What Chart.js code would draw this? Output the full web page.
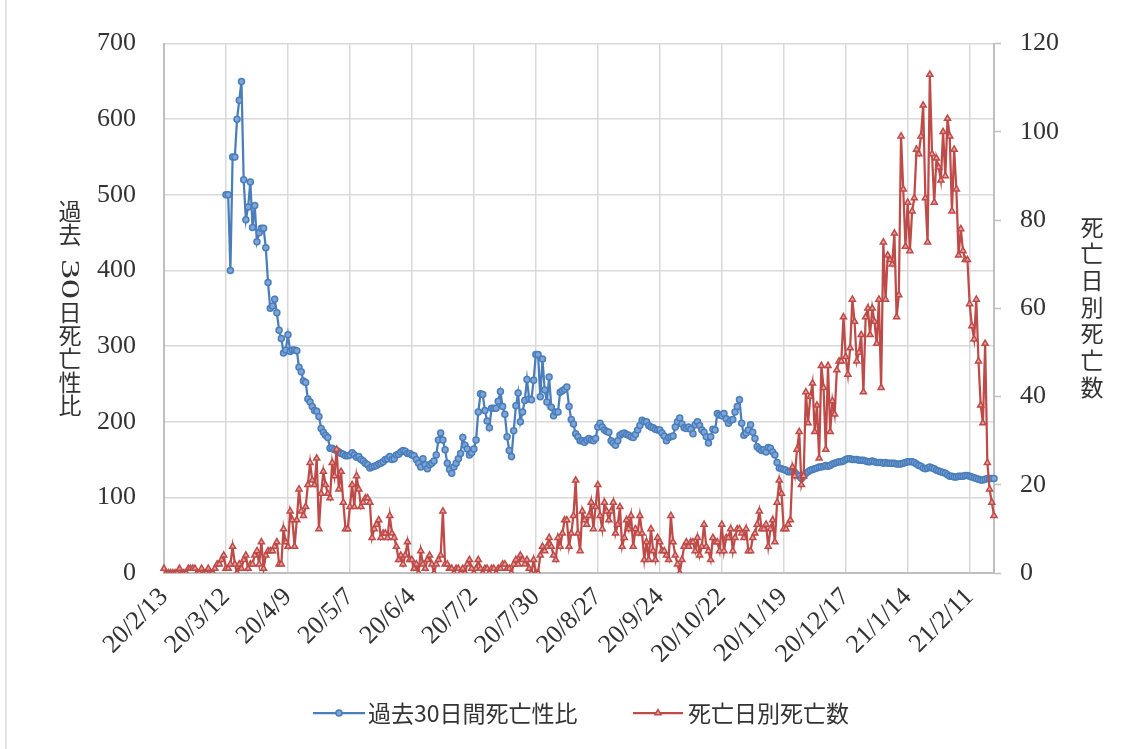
<!DOCTYPE html>
<html><head><meta charset="utf-8">
<script src="https://cdn.jsdelivr.net/npm/chart.js@4"></script>
<style>html,body{margin:0;padding:0;background:#fff}#wrap{width:1134px;height:749px;position:relative}</style>
</head><body><div id="wrap"><canvas id="c" width="1134" height="749"></canvas></div>
<script>
// ---- data ----
const dayCount = 376; // 20/2/13 .. 21/2/22, daily
const tickLabels = ['20/2/13','20/3/12','20/4/9','20/5/7','20/6/4','20/7/2','20/7/30','20/8/27','20/9/24','20/10/22','20/11/19','20/12/17','21/1/14','21/2/11'];
const seriesNames = ['過去30日間死亡性比', '死亡日別死亡数'];
const leftTitle = ['過','去','30','日','死','亡','性','比'];
const rightTitle = ['死','亡','日','別','死','亡','数'];

const ratioSeries = [
null,null,null,null,null,null,null,null,null,null,
null,null,null,null,null,null,null,null,null,null,
null,null,null,null,null,null,null,null,500,500,
400,550,550,600,625,650,520,467,484,517,
457,486,438,450,456,456,430,384,350,353,
362,344,321,310,291,295,315,293,295,295,
294,272,266,254,252,230,226,220,215,214,
207,191,186,182,179,165,165,163,162,160,
158,157,155,155,156,159,156,153,154,150,
148,145,143,139,140,141,142,144,145,147,
150,151,154,150,151,156,157,160,162,161,
158,158,156,155,150,145,140,151,143,138,
143,145,148,156,176,185,176,163,145,137,
132,140,145,151,158,179,169,164,156,159,
164,176,213,237,236,215,201,192,218,218,
218,227,240,220,210,180,162,154,188,221,
238,200,213,228,256,230,229,255,289,289,
233,283,242,226,259,219,208,213,213,239,
241,243,246,220,203,197,184,180,175,175,
173,176,178,176,175,178,193,198,193,189,
187,186,175,172,169,175,182,184,185,183,
182,180,179,183,189,195,202,200,200,195,
193,192,190,189,189,185,181,175,179,180,
181,193,200,205,197,192,191,193,190,184,
196,200,195,189,186,180,172,180,190,189,
211,209,208,211,204,198,202,203,213,220,
229,198,182,185,189,196,186,178,167,164,
162,163,160,166,165,160,156,146,139,138,
137,136,134,134,134,133,130,128,125,128,
132,134,136,137,138,139,140,140,141,142,
141,142,144,145,146,147,147,148,150,151,
151,150,150,150,149,149,149,148,147,147,
148,147,146,146,146,145,146,145,145,145,
145,144,144,144,145,146,147,147,147,146,
144,142,141,139,138,139,140,139,138,136,
135,134,133,132,130,128,128,127,127,128,
128,128,129,129,128,127,126,125,124,123,
123,124,125,125,125,125
];

const deathSeries = [
1,0,0,0,0,0,0,1,0,0,
0,1,1,1,1,0,0,1,0,0,
1,0,0,1,2,2,3,4,1,1,
2,6,2,0,2,1,3,4,1,2,
2,4,5,2,7,1,4,5,5,5,
6,7,2,2,10,7,6,14,12,6,
12,19,14,13,15,20,25,21,20,26,
10,18,23,20,18,17,25,22,28,19,
23,16,10,10,15,20,15,22,19,15,
16,17,17,16,8,10,11,12,8,9,
9,8,13,9,8,6,3,4,2,4,
7,3,3,1,2,0,5,2,1,3,
4,2,0,2,3,4,14,2,2,1,
1,0,1,1,0,1,0,2,3,1,
0,1,3,1,0,1,1,0,1,1,
0,1,1,2,2,1,1,0,2,3,
2,4,3,2,3,1,0,3,0,0,
4,6,5,6,8,6,4,3,8,6,
9,12,12,6,9,13,21,9,5,14,
12,11,13,16,10,15,20,13,10,16,
14,12,14,16,9,11,15,6,8,12,
10,13,6,10,9,13,9,3,7,3,
10,5,3,8,7,5,5,4,3,13,
7,4,2,0,3,6,7,6,7,7,
5,8,4,6,11,6,5,3,8,7,
7,5,11,5,8,8,10,5,8,10,
10,9,8,10,5,5,8,9,11,14,
10,10,11,6,10,12,7,16,21,18,
10,10,11,12,24,22,28,32,20,22,
41,34,40,43,32,38,26,47,42,28,
47,32,39,36,46,48,48,58,49,45,
51,62,57,48,50,54,41,58,60,54,
60,57,52,62,42,75,62,72,71,70,
77,58,63,99,87,74,84,73,82,85,
96,95,99,106,85,75,113,95,84,94,
92,89,100,90,103,99,82,96,87,72,
78,73,71,71,61,56,53,62,48,38,
34,52,25,19,16,13
];

// category labels: consecutive days from 20/2/13
const dateLabels = [];
{
  const d0 = Date.UTC(2020, 1, 13);
  for (let i = 0; i < dayCount; i++) {
    const d = new Date(d0 + i * 86400000);
    dateLabels.push(String(d.getUTCFullYear()).slice(2) + '/' + (d.getUTCMonth() + 1) + '/' + d.getUTCDate());
  }
}

// ---- styles ----
const BLUE = '#4A7EBB', BLUE_FILL = '#7FA5D8';
const RED = '#BE4B48', RED_FILL = '#E3A3A1';
const GRID = '#D9D9D9', AXIS = '#BFBFBF', TXT = '#333333';
const CJK = '"Noto Sans CJK JP", "Noto Sans", sans-serif';
const NUMFONT = '"Liberation Serif", serif';

const decor = {
  id: 'decor',
  afterDraw(chart) {
    const ctx = chart.ctx;
    ctx.save();
    ctx.fillStyle = TXT;
    ctx.textAlign = 'center';
    ctx.textBaseline = 'middle';
    // left vertical title (upright characters, digits turned 90°)
    const lPos = [211, 234, 279, 312, 335, 358, 382, 405];
    leftTitle.forEach((ch, i) => {
      if (/^[0-9]+$/.test(ch)) {
        ctx.save();
        ctx.font = '26px ' + NUMFONT;
        ctx.translate(70, lPos[i]);
        ctx.rotate(Math.PI / 2);
        const w = ctx.measureText(ch).width;
        ctx.scale(40 / w, 1);
        ctx.fillText(ch, 0, 1);
        ctx.restore();
      } else {
        ctx.font = '23px ' + CJK;
        ctx.fillText(ch, 70, lPos[i]);
      }
    });
    // right vertical title
    const rPos = [227, 253, 280, 307, 333, 360, 387];
    ctx.font = '23px ' + CJK;
    rightTitle.forEach((ch, i) => ctx.fillText(ch, 1092, rPos[i]));

    // legend
    const ly = 713;
    const items = [
      {x0: 313, x1: 365, tx: 368, color: BLUE, fill: BLUE_FILL, style: 'circle', r: 3, text: seriesNames[0]},
      {x0: 633, x1: 683, tx: 688, color: RED, fill: RED_FILL, style: 'triangle', r: 3.5, text: seriesNames[1]}
    ];
    items.forEach(it => {
      ctx.strokeStyle = it.color;
      ctx.lineWidth = 2.25;
      ctx.beginPath(); ctx.moveTo(it.x0, ly); ctx.lineTo(it.x1, ly); ctx.stroke();
      ctx.fillStyle = it.fill; ctx.lineWidth = 1.5;
      Chart.helpers.drawPoint(ctx, {pointStyle: it.style, radius: it.r, borderWidth: 1.5, rotation: 0}, (it.x0 + it.x1) / 2, ly);
      ctx.fillStyle = TXT;
      ctx.textAlign = 'left';
      ctx.font = '23px ' + CJK;
      ctx.fillText(it.text, it.tx, ly);
    });
    // outer frame (left edge)
    ctx.strokeStyle = GRID; ctx.lineWidth = 1.5;
    ctx.beginPath(); ctx.moveTo(6, 0); ctx.lineTo(6, 749); ctx.stroke();
    ctx.restore();
  }
};

new Chart(document.getElementById('c'), {
  type: 'line',
  data: {
    labels: dateLabels,
    datasets: [
      {
        label: seriesNames[0], data: ratioSeries, yAxisID: 'y', order: 1,
        borderColor: BLUE, backgroundColor: BLUE, borderWidth: 2.25,
        pointStyle: 'circle', pointRadius: 3, pointBorderWidth: 1.5,
        pointBackgroundColor: BLUE_FILL, pointBorderColor: BLUE, tension: 0
      },
      {
        label: seriesNames[1], data: deathSeries, yAxisID: 'y1', order: 0,
        borderColor: RED, backgroundColor: RED, borderWidth: 2.25,
        pointStyle: 'triangle', pointRadius: 3.5, pointBorderWidth: 1.5,
        pointBackgroundColor: RED_FILL, pointBorderColor: RED, tension: 0
      }
    ]
  },
  options: {
    responsive: false,
    animation: false,
    devicePixelRatio: 1,
    layout: { padding: { top: 42, left: 0, right: 0, bottom: 0 } },
    plugins: { legend: { display: false }, tooltip: { enabled: false } },
    scales: {
      x: {
        type: 'category', offset: false,
        grid: {
          color: c => (c.tick && tickLabels.includes(c.tick.label)) ? GRID : 'rgba(0,0,0,0)',
          lineWidth: 1.5, drawTicks: false, offset: false
        },
        border: { color: AXIS, width: 2 },
        ticks: {
          autoSkip: false, maxRotation: 45, minRotation: 45, padding: 9,
          color: TXT, font: { family: NUMFONT, size: 26 },
          callback: (v, i) => tickLabels.includes(dateLabels[i]) ? dateLabels[i] : ''
        },
        afterFit: s => { s.height = 176; }
      },
      y: {
        position: 'left', min: 0, max: 700,
        ticks: { stepSize: 100, padding: 28, color: TXT, font: { family: NUMFONT, size: 26 } },
        grid: { color: GRID, lineWidth: 1.5, drawTicks: false },
        border: { color: AXIS, width: 2 },
        afterFit: s => { s.width = 164; }
      },
      y1: {
        position: 'right', min: 0, max: 120,
        ticks: { stepSize: 20, padding: 19, color: TXT, font: { family: NUMFONT, size: 26 } },
        grid: { drawOnChartArea: false, drawTicks: true, tickLength: 7, tickColor: AXIS, tickWidth: 1.5, color: AXIS },
        border: { color: AXIS, width: 2 },
        afterFit: s => { s.width = 140; }
      }
    }
  },
  plugins: [decor]
});
</script>
</body></html>
